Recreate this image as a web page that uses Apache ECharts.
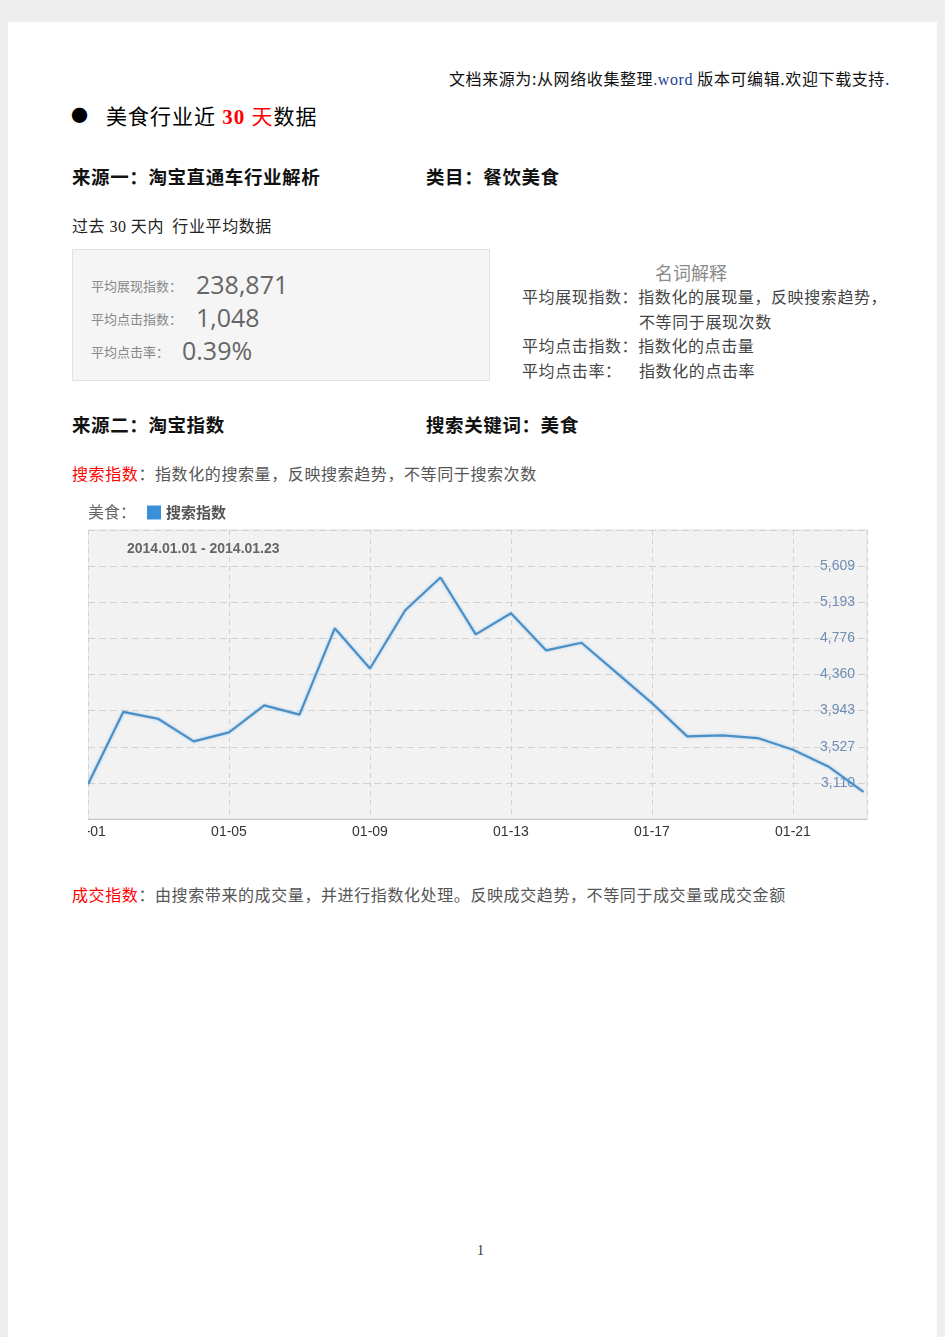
<!DOCTYPE html>
<html><head><meta charset="utf-8">
<script src="https://cdn.jsdelivr.net/npm/echarts@6/dist/echarts.min.js"></script>
<style>
html,body{margin:0;padding:0;}
body{width:945px;height:1337px;background:#eeeeee;position:relative;overflow:hidden;font-family:"Noto Sans CJK SC","Liberation Sans",sans-serif;}
#page{position:absolute;left:8px;top:22px;width:929px;height:1315px;background:#fff;}
.t{position:absolute;white-space:nowrap;}
.b{letter-spacing:0.6px;}
#chart{position:absolute;left:88px;top:495px;width:800px;height:350px;}
#statbox{position:absolute;left:72px;top:249px;width:416px;height:130px;background:#f5f5f5;border:1px solid #e2e2e2;}
</style></head>
<body>
<div id="page"></div>
<div class="t b" style="right:55px;top:68px;font-size:16px;line-height:20px;color:#111;">文档来源为:从网络收集整理<span style="color:#1f3f8f;font-family:'Liberation Serif',serif;">.word</span> 版本可编辑.欢迎下载支持<span style="color:#1f3f8f;">.</span></div>
<div class="t" style="left:71px;top:104px;font-size:17px;line-height:22px;color:#000;">●</div>
<div class="t" style="left:106px;top:102px;font-size:21px;line-height:26px;color:#000;letter-spacing:1px;">美食行业近<span style="color:#ff0000;font-weight:bold;font-family:'Liberation Serif',serif;"> 30 </span><span style="color:#ff0000;">天</span>数据</div>
<div class="t b" style="left:72px;top:165px;font-size:18.5px;line-height:22px;font-weight:bold;color:#111;">来源一：淘宝直通车行业解析</div>
<div class="t b" style="left:426px;top:165px;font-size:18.5px;line-height:22px;font-weight:bold;color:#111;">类目：餐饮美食</div>
<div class="t b" style="left:72px;top:215px;font-size:16px;line-height:20px;color:#222;">过去 <span style="font-family:'Liberation Serif',serif;">30</span> 天内&nbsp; 行业平均数据</div>

<div id="statbox"></div>
<div class="t" style="left:91px;top:278px;font-size:13px;line-height:16px;color:#888;">平均展现指数：</div>
<div class="t" style="left:196px;top:268px;font-size:25px;line-height:32px;color:#666;font-family:'Open Sans',sans-serif;">238,871</div>
<div class="t" style="left:91px;top:311px;font-size:13px;line-height:16px;color:#888;">平均点击指数：</div>
<div class="t" style="left:196px;top:301px;font-size:25px;line-height:32px;color:#666;font-family:'Open Sans',sans-serif;">1,048</div>
<div class="t" style="left:91px;top:344px;font-size:13px;line-height:16px;color:#888;">平均点击率：</div>
<div class="t" style="left:182px;top:334px;font-size:25px;line-height:32px;color:#666;font-family:'Open Sans',sans-serif;">0.39%</div>

<div class="t" style="left:655px;top:261px;font-size:18px;line-height:22px;color:#8a8a8a;">名词解释</div>
<div class="t b" style="left:522px;top:286px;font-size:16px;line-height:20px;color:#444;">平均展现指数：指数化的展现量，反映搜索趋势，</div>
<div class="t b" style="left:639px;top:311px;font-size:16px;line-height:20px;color:#444;">不等同于展现次数</div>
<div class="t b" style="left:522px;top:335px;font-size:16px;line-height:20px;color:#444;">平均点击指数：指数化的点击量</div>
<div class="t b" style="left:522px;top:360px;font-size:16px;line-height:20px;color:#444;">平均点击率：</div>
<div class="t b" style="left:639px;top:360px;font-size:16px;line-height:20px;color:#444;">指数化的点击率</div>

<div class="t b" style="left:72px;top:413px;font-size:18.5px;line-height:22px;font-weight:bold;color:#111;">来源二：淘宝指数</div>
<div class="t b" style="left:426px;top:413px;font-size:18.5px;line-height:22px;font-weight:bold;color:#111;">搜索关键词：美食</div>
<div class="t b" style="left:72px;top:463px;font-size:16px;line-height:20px;color:#555;"><span style="color:#ff0000;">搜索指数</span>：指数化的搜索量，反映搜索趋势，不等同于搜索次数</div>

<div id="chart"></div>

<div class="t b" style="left:72px;top:884px;font-size:16px;line-height:20px;color:#555;"><span style="color:#ff0000;">成交指数</span>：由搜索带来的成交量，并进行指数化处理。反映成交趋势，不等同于成交量或成交金额</div>
<div class="t" style="left:477px;top:1243px;font-size:14px;line-height:16px;color:#333;font-family:'Liberation Serif',serif;">1</div>

<script>
// ---- data ----
const dates = ['01-01','01-02','01-03','01-04','01-05','01-06','01-07','01-08','01-09','01-10','01-11','01-12',
               '01-13','01-14','01-15','01-16','01-17','01-18','01-19','01-20','01-21','01-22','01-23'];
const searchIndex = [3095, 3928, 3847, 3588, 3692, 4004, 3897, 4892, 4429, 5100, 5478, 4822,
                     5065, 4637, 4726, 4379, 4030, 3646, 3657, 3627, 3492, 3299, 3005];
const yTickLabels = ['3,110','3,527','3,943','4,360','4,776','5,193','5,609'];
const seriesName = '搜索指数';
const keyword = '美食：';
const dateRange = '2014.01.01 - 2014.01.23';

const Y_STEP = 416.5, Y_MIN = 2693.5, Y_MAX = 6025.5;

const chart = echarts.init(document.getElementById('chart'), null, {renderer:'canvas'});
chart.setOption({
  animation: false,
  legend: {
    left: 59, top: 10, padding: 0, itemWidth: 14, itemHeight: 14, itemGap: 5,
    icon: 'rect',
    data: [{name: seriesName, itemStyle: {color: '#3b8fd9'}}],
    textStyle: {fontSize: 15, fontWeight: 'bold', color: '#555', fontFamily: 'Noto Sans CJK SC'}
  },
  graphic: [
    {type: 'text', left: 0, top: 9, style: {text: keyword, fontSize: 16, fill: '#666', fontFamily: 'Noto Sans CJK SC'}},
    {type: 'text', left: 39, top: 47, z: 10, style: {text: dateRange, fontSize: 14, fontWeight: 'bold', fill: '#666', fontFamily: 'Liberation Sans, Arial'}}
  ],
  grid: {left: 0, top: 35, right: 21, bottom: 26, show: true, backgroundColor: '#f2f2f2', borderColor: '#dedede', borderWidth: 1,
         containLabel: false, outerBoundsMode: 'none'},
  xAxis: {
    type: 'value', min: 0, max: 22.1, interval: 4,
    axisLine: {show: true, lineStyle: {color: '#c4c4c4', width: 1}},
    axisTick: {show: false},
    axisLabel: {
      margin: 6, color: '#333', fontSize: 14, fontFamily: 'Liberation Sans, Arial',
      showMaxLabel: false, hideOverlap: false,
      formatter: v => (Number.isInteger(v) && v % 4 === 0 && dates[v]) ? dates[v] : ''
    },
    splitLine: {show: true, lineStyle: {color: '#d2d2d2', type: [5, 4], width: 1}}
  },
  yAxis: {
    type: 'value', position: 'right', min: Y_MIN, max: Y_MAX, interval: Y_STEP,
    axisLine: {show: false}, axisTick: {show: false},
    axisLabel: {
      inside: true, margin: 12, color: '#6f8db5', fontSize: 14, fontFamily: 'Liberation Sans, Arial',
      formatter: v => { const i = Math.round((v - Y_MIN) / Y_STEP) - 1; return yTickLabels[i] || ''; }
    },
    splitLine: {show: true, lineStyle: {color: '#d2d2d2', type: [7, 4], width: 1}}
  },
  series: [{
    name: seriesName, type: 'line', showSymbol: false, symbol: 'none',
    data: searchIndex.map((v, i) => [i, v]),
    itemStyle: {color: '#3b8fd9'},
    lineStyle: {color: '#4a8fc6', width: 2.2, shadowColor: 'rgba(120,180,235,0.6)', shadowBlur: 3}
  }]
});
</script>
</body></html>
